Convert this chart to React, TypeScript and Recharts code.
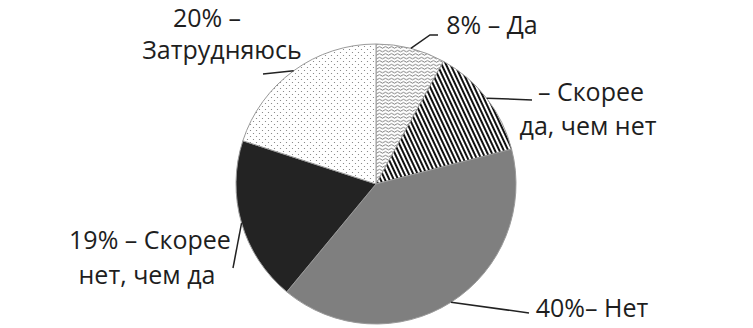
import { PieChart, Pie, Cell } from "recharts";

// survey answers, clockwise from 12 o'clock
const CATEGORIES = ["Да", "Скорее да, чем нет", "Нет", "Скорее нет, чем да", "Затрудняюсь"];
const VALUES = [8, 13, 40, 19, 20];
const LABEL_TEXT = [
  ["8% – Да"],
  ["– Скорее", "да, чем нет"],
  ["40%– Нет"],
  ["19% – Скорее", "нет, чем да"],
  ["20% –", "Затрудняюсь"],
];

const FILLS = ["url(#wave)", "url(#stripes)", "#7f7f7f", "#232323", "url(#dots)"];

// where each label's text lines sit and where its leader line bends
const LABEL_LAYOUT = [
  { lines: [[492, 34]], leader: [[430, 35], [438, 35]] },
  { lines: [[591, 101], [588, 135]], leader: [[532, 100]] },
  { lines: [[592, 317]], leader: [[529, 313]] },
  { lines: [[150, 249], [147, 284]], leader: [[233, 268]] },
  { lines: [[207, 27], [222, 59]], leader: [[263, 74]] },
];

const data = CATEGORIES.map((name, i) => ({ name, value: VALUES[i] }));

const RAD = Math.PI / 180;

const renderLabel = (props: any) => {
  const { cx, cy, midAngle, outerRadius, index } = props;
  const sx = cx + outerRadius * Math.cos(-midAngle * RAD);
  const sy = cy + outerRadius * Math.sin(-midAngle * RAD);
  const layout = LABEL_LAYOUT[index];
  const pts = [[sx, sy], ...layout.leader];
  const d = pts.map((p, i) => `${i === 0 ? "M" : "L"}${p[0]},${p[1]}`).join(" ");
  return (
    <g key={`label-${index}`}>
      <path d={d} fill="none" stroke="#222" strokeWidth={1.5} />
      {LABEL_TEXT[index].map((line, j) => (
        <text
          key={j}
          x={layout.lines[j][0]}
          y={layout.lines[j][1]}
          textAnchor="middle"
          fill="#1e1e1e"
          fontSize={25}
          fontFamily="'Open Sans', sans-serif"
        >
          {line}
        </text>
      ))}
    </g>
  );
};

export default function App() {
  return (
    <div style={{ position: "absolute", left: 0, top: 0, width: 753, height: 328, background: "#fff" }}>
      <PieChart width={753} height={328} margin={{ top: 0, right: 0, bottom: 0, left: 0 }}>
        <defs>
          <pattern id="wave" width={6} height={3.5} patternUnits="userSpaceOnUse">
            <rect width={6} height={3.5} fill="#fff" />
            <path d="M0 2 Q1.5 0.4 3 2 T6 2" fill="none" stroke="#555" strokeWidth={0.8} />
          </pattern>
          <pattern id="stripes" width={4} height={4} patternUnits="userSpaceOnUse" patternTransform="rotate(-25)">
            <rect width={4} height={4} fill="#fff" />
            <rect width={2} height={4} fill="#111" />
          </pattern>
          <pattern id="dots" width={6} height={6} patternUnits="userSpaceOnUse">
            <rect width={6} height={6} fill="#fff" />
            <circle cx={1.5} cy={1.5} r={0.6} fill="#777" />
            <circle cx={4.5} cy={4.5} r={0.6} fill="#777" />
          </pattern>
        </defs>
        <Pie
          data={data}
          dataKey="value"
          nameKey="name"
          cx={376}
          cy={184}
          outerRadius={140}
          startAngle={90}
          endAngle={-270}
          stroke="#9a9a9a"
          strokeWidth={1}
          label={renderLabel}
          labelLine={false}
          isAnimationActive={false}
        >
          {data.map((_, i) => (
            <Cell key={`cell-${i}`} fill={FILLS[i]} />
          ))}
        </Pie>
      </PieChart>
    </div>
  );
}
